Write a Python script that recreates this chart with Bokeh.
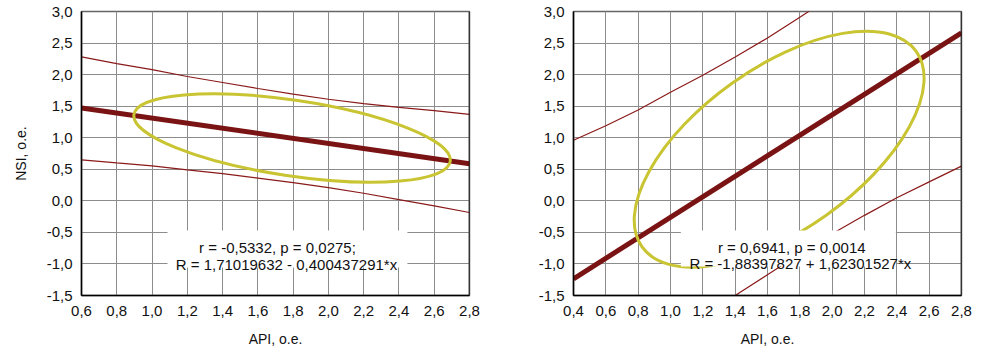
from bokeh.plotting import figure
from bokeh.layouts import row
from bokeh.models import Range1d, FixedTicker, CustomJSTickFormatter, Span, BoxAnnotation, Label
from bokeh.embed import file_html
from bokeh.resources import INLINE

# ---------------- data ----------------
# left panel
left_band_x = [0.6, 0.8, 1.0, 1.2, 1.4, 1.6, 1.8, 2.0, 2.2, 2.4, 2.6, 2.8]
left_upper = [2.28, 2.175, 2.08, 1.97, 1.875, 1.78, 1.69, 1.61, 1.54, 1.48, 1.43, 1.37]
left_lower = [0.65, 0.60, 0.555, 0.49, 0.43, 0.36, 0.29, 0.21, 0.12, 0.02, -0.08, -0.185]
left_fit_x = [0.6, 2.8]
left_fit_y = [1.470, 0.589]
left_ellipse = dict(x=1.794, y=0.996, width=1.813, height=1.201, angle=-0.147)
left_text = ["r = -0,5332, p = 0,0275;", "R = 1,71019632 - 0,400437291*x"]
left_x_ticks = [0.6, 0.8, 1.0, 1.2, 1.4, 1.6, 1.8, 2.0, 2.2, 2.4, 2.6, 2.8]

# right panel
right_upper_x = [0.4, 0.6, 0.8, 1.0, 1.2, 1.4, 1.6, 1.8, 2.0]
right_upper = [0.96, 1.19, 1.44, 1.72, 1.99, 2.28, 2.58, 2.91, 3.24]
right_lower_x = [1.2, 1.4, 1.6, 1.8, 2.0, 2.2, 2.4, 2.6, 2.8]
right_lower = [-1.86, -1.50, -1.17, -0.84, -0.52, -0.23, 0.05, 0.30, 0.55]
right_fit_x = [0.4, 2.8]
right_fit_y = [-1.235, 2.661]
right_ellipse = dict(x=1.672, y=0.818, width=2.083, height=2.570, angle=0.6196)
right_text = ["r = 0,6941, p = 0,0014", "R = -1,88397827 + 1,62301527*x"]
right_x_ticks = [0.4, 0.6, 0.8, 1.0, 1.2, 1.4, 1.6, 1.8, 2.0, 2.2, 2.4, 2.6, 2.8]

y_ticks = [-1.5, -1.0, -0.5, 0.0, 0.5, 1.0, 1.5, 2.0, 2.5, 3.0]
x_label = "API, o.e."
y_label = "NSI, o.e."

FIT_COLOR = "#7a1414"
BAND_COLOR = "#8b1a1a"
ELL_COLOR = "#c9c432"
FONT = "Liberation Sans"

fmt = CustomJSTickFormatter(code="return tick.toFixed(1).replace('.', ',');")


def make_panel(width, xr, xticks, border_left, border_right, ylab):
    p = figure(width=width, height=354, output_backend="svg", toolbar_location=None,
               x_range=Range1d(*xr), y_range=Range1d(-1.5, 3.0),
               min_border_left=border_left, min_border_right=border_right,
               min_border_top=11, min_border_bottom=59)
    p.background_fill_color = "white"
    p.border_fill_color = "white"
    p.outline_line_color = "#666666"
    p.outline_line_width = 1.5
    for ax in (p.xaxis, p.yaxis):
        ax.formatter = fmt
        ax.major_tick_out = 0
        ax.major_tick_in = 0
        ax.minor_tick_out = 0
        ax.minor_tick_in = 0
        ax.axis_line_color = "black"
        ax.axis_line_width = 1.5
        ax.major_label_text_font = FONT
        ax.major_label_text_font_size = "15px"
        ax.major_label_text_color = "#111111"
        ax.axis_label_text_font = FONT
        ax.axis_label_text_font_size = "14px"
        ax.axis_label_text_font_style = "normal"
        ax.axis_label_text_color = "#111111"
    p.xaxis.ticker = FixedTicker(ticks=xticks)
    p.yaxis.ticker = FixedTicker(ticks=y_ticks)
    p.xaxis.major_label_standoff = 10
    p.yaxis.major_label_standoff = 9
    p.xaxis.axis_label = x_label
    p.xaxis.axis_label_standoff = 12
    if ylab:
        p.yaxis.axis_label = ylab
        p.yaxis.axis_label_standoff = 15
    for g in (p.xgrid, p.ygrid):
        g.grid_line_color = "#8c8c8c"
        g.grid_line_width = 1
    p.add_layout(Span(location=xr[1], dimension="height", line_color="black", line_width=1.5))
    return p


def decorate(p, bx, bu, blx, bl, fx, fy, ell, texts, box, tpos):
    p.line(bx, bu, line_color=BAND_COLOR, line_width=1.2)
    p.line(blx, bl, line_color=BAND_COLOR, line_width=1.2)
    p.line(fx, fy, line_color=FIT_COLOR, line_width=5)
    p.ellipse(x=[ell["x"]], y=[ell["y"]], width=[ell["width"]], height=[ell["height"]],
              angle=[ell["angle"]], fill_color=None, line_color=ELL_COLOR, line_width=3)
    p.add_layout(BoxAnnotation(left=box[0], right=box[1], bottom=box[2], top=box[3],
                               fill_color="white", fill_alpha=1.0, line_color=None))
    for t, (tx, ty) in zip(texts, tpos):
        p.add_layout(Label(x=tx, y=ty, text=t, text_align="center", text_baseline="alphabetic",
                           text_font=FONT, text_font_size="15px", text_color="#111111"))


p1 = make_panel(490, (0.6, 2.8), left_x_ticks, 81, 21, y_label)
decorate(p1, left_band_x, left_upper, left_band_x, left_lower, left_fit_x, left_fit_y,
         left_ellipse, left_text, (1.0875, 2.448, -1.056, -0.470),
         [(1.711, -0.744), (1.762, -1.014)])

p2 = make_panel(496, (0.4, 2.8), right_x_ticks, 83, 25, None)
decorate(p2, right_upper_x, right_upper, right_lower_x, right_lower, right_fit_x, right_fit_y,
         right_ellipse, right_text, (1.064, 2.394, -1.04, -0.47),
         [(1.750, -0.739), (1.803, -0.993)])

layout = row(p1, p2)
open("out.html", "w").write(file_html(layout, INLINE))
